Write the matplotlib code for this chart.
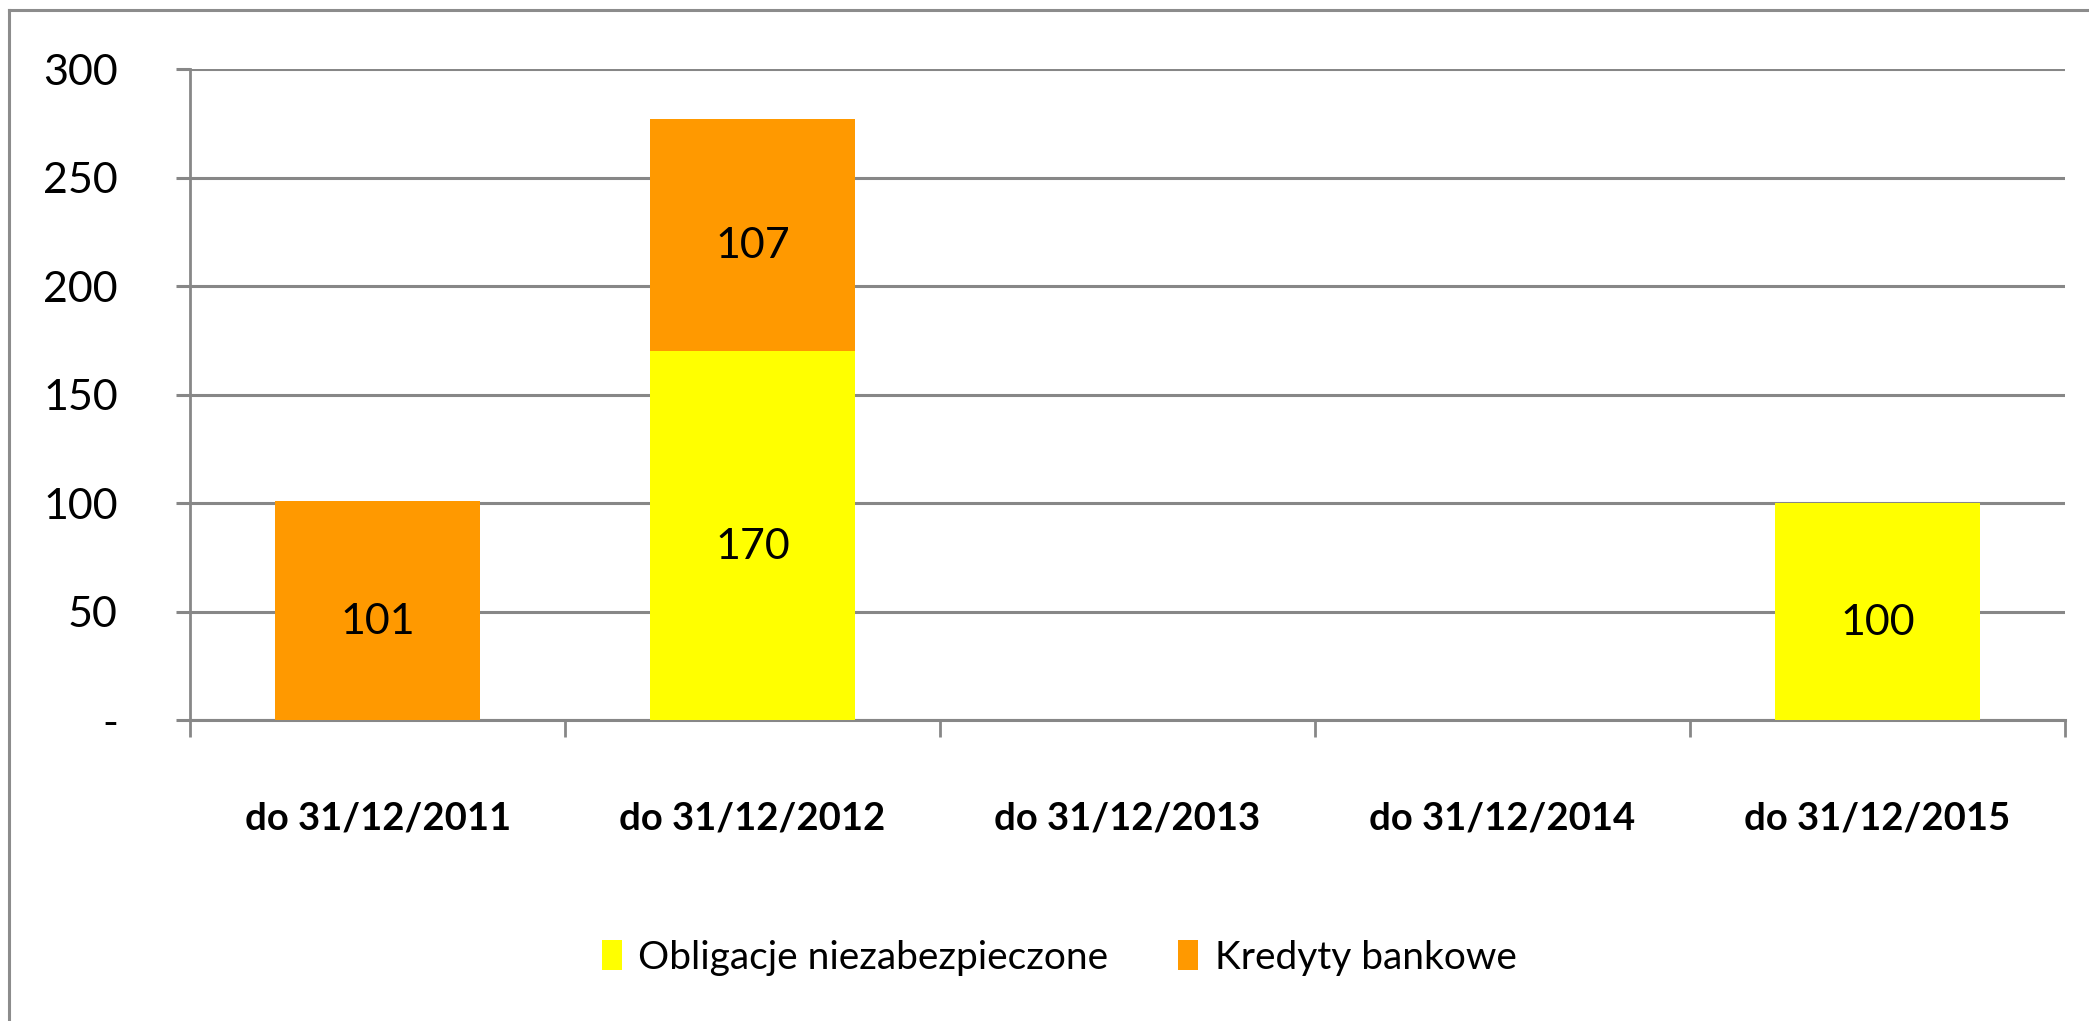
import numpy as np
import matplotlib
matplotlib.use("Agg")
import matplotlib.pyplot as plt
from matplotlib.lines import Line2D

plt.rcParams['font.family'] = ['Lato', 'DejaVu Sans']

# dane
okresy = ['do 31/12/2011', 'do 31/12/2012', 'do 31/12/2013', 'do 31/12/2014', 'do 31/12/2015']
obligacje = [0, 170, 0, 0, 100]
kredyty = [101, 107, 0, 0, 0]
etykiety_osi_y = ['-', '50', '100', '150', '200', '250', '300']
wartosci_osi_y = [0, 50, 100, 150, 200, 250, 300]

KOLOR_OBL = '#FFFF00'
KOLOR_KRED = '#FF9900'
SZARY = '#878787'

fig = plt.figure(figsize=(20.89, 10.21), dpi=100)
ax = fig.add_axes([0.0910, 0.2948, 0.8975, 0.6376])

x = np.arange(len(okresy))
szer = 0.545
b1 = ax.bar(x, obligacje, szer, color=KOLOR_OBL, label='Obligacje niezabezpieczone', zorder=3)
b2 = ax.bar(x, kredyty, szer, bottom=obligacje, color=KOLOR_KRED, label='Kredyty bankowe', zorder=3)

# etykiety wartosci w srodku slupkow
for i in range(len(okresy)):
    if obligacje[i] > 0:
        ax.annotate(str(obligacje[i]), (x[i], obligacje[i] / 2), xytext=(0, -8),
                    textcoords='offset points', ha='center', va='center',
                    fontsize=31, zorder=4)
    if kredyty[i] > 0:
        ax.annotate(str(kredyty[i]), (x[i], obligacje[i] + kredyty[i] / 2), xytext=(0, -8),
                    textcoords='offset points', ha='center', va='center',
                    fontsize=31, zorder=4)

ax.set_xlim(-0.5, len(okresy) - 0.5)
ax.set_ylim(0, 300)

ax.set_yticks(wartosci_osi_y)
ax.set_yticklabels(etykiety_osi_y)
ax.yaxis.grid(True, color=SZARY, linewidth=2.2, zorder=0)
ax.set_axisbelow(True)
ax.tick_params(axis='y', direction='out', length=10, width=2.2, color=SZARY,
               labelsize=31, pad=42)

ax.set_xticks(x)
ax.set_xticklabels(okresy, fontweight='bold')
ax.set_xticks(np.arange(len(okresy) + 1) - 0.5, minor=True)
ax.tick_params(axis='x', which='major', length=0, labelsize=27.5, pad=59)
ax.tick_params(axis='x', which='minor', direction='out', length=12, width=2, color=SZARY)

for s in ['top', 'right']:
    ax.spines[s].set_visible(False)
ax.spines['left'].set_color(SZARY)
ax.spines['left'].set_linewidth(2)
ax.spines['bottom'].set_color(SZARY)
ax.spines['bottom'].set_linewidth(2.2)

fig.legend(handles=[b1, b2], loc='center', bbox_to_anchor=(0.507, 0.0620), ncol=2,
           frameon=False, fontsize=28, handlelength=0.52, handleheight=0.82,
           handletextpad=0.42, columnspacing=1.8)

# ramka wykresu (widoczna tylko z lewej i u gory)
fig.add_artist(Line2D([0.0045, 1.0], [0.990, 0.990], transform=fig.transFigure,
                      color='#8c8c8c', linewidth=2.2))
fig.add_artist(Line2D([0.0045, 0.0045], [0.0, 0.990], transform=fig.transFigure,
                      color='#8c8c8c', linewidth=2.2))

fig.savefig('out.png', dpi=100)
